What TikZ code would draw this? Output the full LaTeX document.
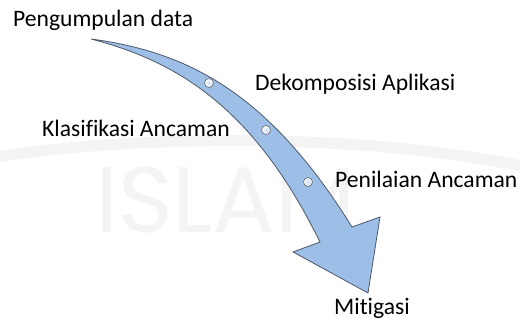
\documentclass[tikz,border=0pt]{standalone}
\usepackage{fontspec}
\setmainfont{Carlito}[Ligatures=NoCommon]
\newfontfamily\markfont{Poppins}
\definecolor{arrowfill}{RGB}{157,191,231}
\definecolor{arrowline}{RGB}{78,88,104}
\definecolor{dotfill}{RGB}{206,222,243}
\definecolor{markgray}{RGB}{244,244,244}
\begin{document}
\begin{tikzpicture}[x=1pt,y=-1pt,
  lbl/.style={anchor=base west, inner sep=0pt, font=\fontsize{23.6}{28}\selectfont, text=black},
  stepdot/.style={circle, draw=black!60, line width=0.6pt, shading=radial,
    inner color=dotfill, outer color=white, minimum size=9pt, inner sep=0pt},
  flowarrow/.style={fill=arrowfill, draw=arrowline, line width=0.8pt, line join=miter}]
\useasboundingbox (0,0) rectangle (520,320);

% faint background mark
\draw[markgray, line width=11pt] (-10,158) .. controls (150,132) and (380,135) .. (530,168);
\node[anchor=base west, inner sep=0pt, font=\markfont\fontsize{93}{100}\selectfont,
  text=markgray] (mark) at (95,233) {ISLAM};

% curved process arrow
\path[flowarrow] (91,39) .. controls (190,52) and (270,95) .. (352,227)
  -- (380,217) -- (368,293) -- (293,252) -- (320,242)
  .. controls (255,110) and (180,62) .. (91,39) -- cycle;

% step markers on the arrow
\node[stepdot] (d1) at (209,83) {};
\node[stepdot] (d2) at (266,130) {};
\node[stepdot] (d3) at (308,182) {};

% step labels
\node[lbl] (start) at (13,27) {Pengumpulan data};
\node[lbl] (dekomp) at (255,91) {Dekomposisi Aplikasi};
\node[lbl] (klas) at (42,137) {Klasifikasi Ancaman};
\node[lbl] (nilai) at (335,188) {Penilaian Ancaman};
\node[lbl] (mitig) at (334,315) {Mitigasi};
\end{tikzpicture}
\end{document}
